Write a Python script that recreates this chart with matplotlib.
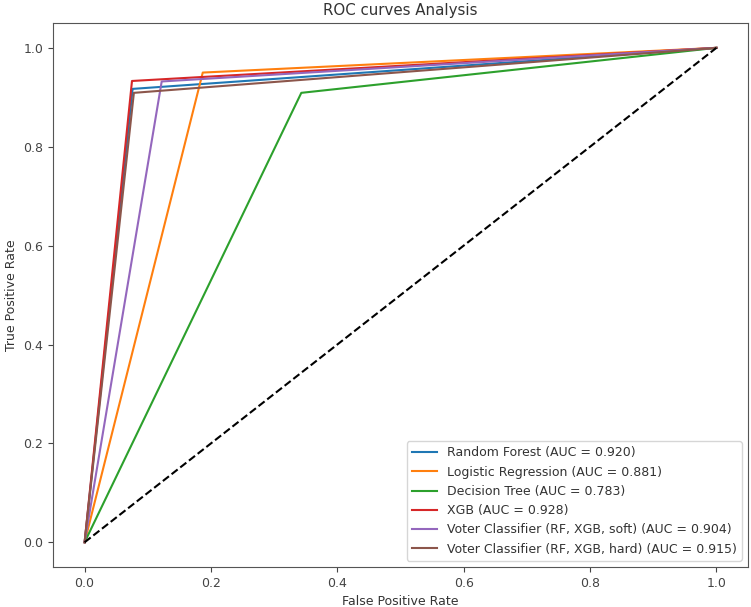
import matplotlib
matplotlib.use('Agg')
import matplotlib.pyplot as plt

# ROC points (fpr, tpr) for each model, single threshold curves
model_names = ['Random Forest', 'Logistic Regression', 'Decision Tree', 'XGB',
               'Voter Classifier (RF, XGB, soft)', 'Voter Classifier (RF, XGB, hard)']
auc_values = [0.920, 0.881, 0.783, 0.928, 0.904, 0.915]
fpr_values = [
    [0.0, 0.076, 1.0],
    [0.0, 0.187, 1.0],
    [0.0, 0.343, 1.0],
    [0.0, 0.075, 1.0],
    [0.0, 0.122, 1.0],
    [0.0, 0.078, 1.0],
]
tpr_values = [
    [0.0, 0.917, 1.0],
    [0.0, 0.950, 1.0],
    [0.0, 0.909, 1.0],
    [0.0, 0.933, 1.0],
    [0.0, 0.932, 1.0],
    [0.0, 0.909, 1.0],
]
baseline = [0, 1]

plt.rcParams['font.size'] = 9
plt.rcParams['text.color'] = '#333333'
plt.rcParams['axes.labelcolor'] = '#333333'
plt.rcParams['xtick.color'] = '#444444'
plt.rcParams['ytick.color'] = '#444444'
plt.rcParams['axes.edgecolor'] = '#555555'

fig = plt.figure(figsize=(7.51, 6.07), dpi=100)
ax = fig.add_axes([0.0706, 0.0659, 0.9254, 0.896])

for name, auc, fpr, tpr in zip(model_names, auc_values, fpr_values, tpr_values):
    ax.plot(fpr, tpr, label=f'{name} (AUC = {auc:.3f})')

ax.plot(baseline, baseline, 'k--')
ax.set_title('ROC curves Analysis')
ax.set_xlabel('False Positive Rate')
ax.set_ylabel('True Positive Rate')
ax.legend(loc='lower right')

fig.savefig('out.png', dpi=100)
